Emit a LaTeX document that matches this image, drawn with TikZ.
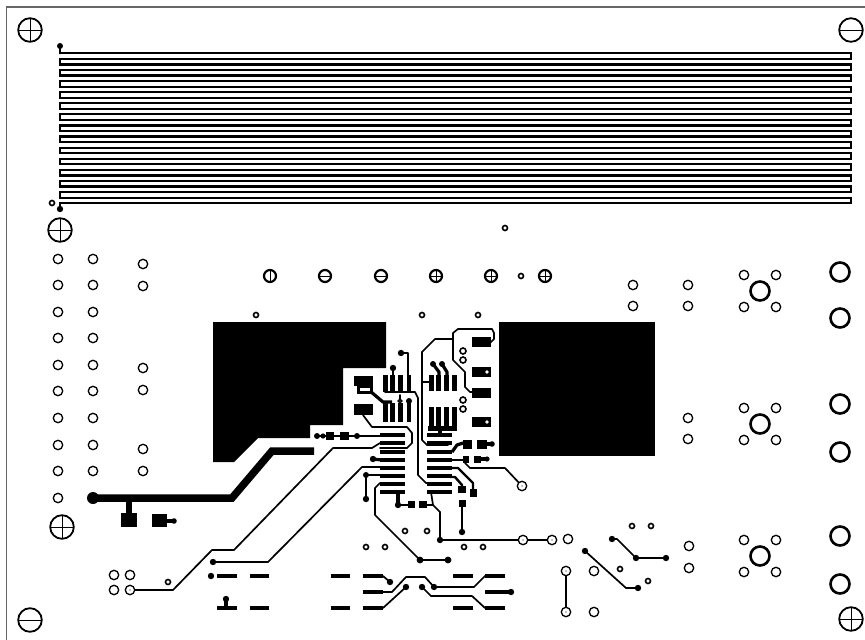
\documentclass[tikz,border=0pt]{standalone}
\usepackage{amsmath,amsfonts,amssymb}

\tikzset{
  trace/.style={line width=2.2pt, line join=round, line cap=round},
  wire/.style={line width=1.7pt, line join=round, line cap=round},
  thickwire/.style={line width=3.2pt, line join=round},
  fid/.style={line width=1.8pt, fill=white},
  via/.style={line width=1.3pt, fill=white},
  smallvia/.style={line width=1.6pt, fill=white},
  testpt/.style={line width=2.2pt, fill=white},
  bigvia/.style={line width=2.6pt, fill=white},
  outline/.style={black!60, line width=1.2pt},
}

\begin{document}
\begin{tikzpicture}[x=1pt, y=-1pt]
\useasboundingbox (0,0) rectangle (865,640);

% -------- board edge -----------
\draw [outline] (6.5,640) -- (6.5,7) -- (865,7);

% -------- serpentine -----------
\foreach \i in {0,...,27} {
  \pgfmathsetmacro{\yy}{53.3+5.55*\i}
  \draw [trace, line cap=rect] (60,\yy) -- (851,\yy);
}
\foreach \i in {1,3,...,25} {
  \pgfmathsetmacro{\ya}{53.3+5.55*\i}
  \pgfmathsetmacro{\yb}{53.3+5.55*(\i+1)}
  \draw [trace, line cap=rect] (60,\ya) -- (60,\yb);
}
\foreach \i in {0,2,...,26} {
  \pgfmathsetmacro{\ya}{53.3+5.55*\i}
  \pgfmathsetmacro{\yb}{53.3+5.55*(\i+1)}
  \draw [trace, line cap=rect] (851,\ya) -- (851,\yb);
}
\draw [trace] (60,46) -- (60,53.3);
\draw [trace] (60,203.2) -- (60,209);
\fill (60,46) circle (3pt);
\fill (60,209) circle (3.2pt);

% -------- copper pours -----------
\fill (213,322) -- (386,322) -- (386,368) -- (343,368) -- (343,425) -- (310,425)
  -- (310,438) -- (258,438) -- (234,462) -- (213,462) -- cycle;
\fill (499,322) rectangle (655,456);

% -------- thick run -----------
\draw [line width=7.5pt] (93,498) -- (232,498) -- (272,451) -- (314,451);
\fill (93,498) circle (6pt);
\draw [line width=6pt] (129,498) -- (129,515);
\fill (121,513) rectangle (137,527);
\fill (152,514) rectangle (167,527);
\draw [line width=4.5pt] (165,521) -- (173,521);
\fill (174,521) circle (2.8pt);

% -------- long traces -----------
\draw [wire] (130,590) -- (173,590) -- (212,550) -- (234,550) -- (333,448) -- (372,448) -- (380,443);
\draw [wire] (213,562) -- (268,562) -- (362,467) -- (380,467);
\fill (213,562) circle (3.2pt);
\draw [wire] (380,483) -- (375,488) -- (375,515) -- (420,560) -- (448,560);
\fill (420,560) circle (3.4pt);
\fill (448,560) circle (3.4pt);
\draw [wire] (363,415) -- (372,427) -- (407,427) -- (412,433) -- (412,443) -- (407,448) -- (380,448);
\draw [wire] (385,392) -- (415,392) -- (418,398) -- (418,475) -- (426,483) -- (450,483);
\draw [wire] (422,352) -- (422,440) -- (427,445) -- (448,445);
\draw [wire] (422,352) -- (435,339) -- (453,339) -- (453,333) -- (458,329) -- (492,329) -- (494,333) -- (494,339) -- (490,343) -- (480,343);
\draw [wire] (453,339) -- (453,360) -- (465,372) -- (465,387) -- (470,392) -- (478,392);
\draw [wire] (422,382) -- (432,382);
\draw [wire] (440,512) -- (433,505) -- (425,505);
\draw [wire] (431,492) -- (433,505);
\draw [wire] (440,512) -- (440,540) -- (553,540);
\fill (440,540) circle (3.2pt);

% -------- upper pads -----------
\foreach \px in {385.5,392.5,400.5,409} {
  \fill (\px-2.4,375) rectangle (\px+2.4,392);
  \fill (\px-2.4,403) rectangle (\px+2.4,422);
}
\foreach \px in {431,438.5,446,454} {
  \fill (\px-2.5,375) rectangle (\px+2.5,391);
  \fill (\px-2.5,407) rectangle (\px+2.5,428);
}
\fill (428,426) rectangle (457,431);
\draw [thickwire] (440,429) -- (440,436);
\draw [wire] (401,353) -- (408,353) -- (408,376);
\fill (401,353) circle (3.2pt);
\draw [wire] (393,368) -- (393,376);
\fill (393,368) circle (3.2pt);
\draw [thickwire] (433,364) -- (439,372) -- (439,377);
\draw [thickwire] (442,364) -- (447,372) -- (447,377);
\fill (433,364) circle (3pt);
\fill (442,364) circle (3pt);
\fill (409,401) circle (3pt);
\draw [wire] (400,395) -- (400,404);

% -------- pad block at left -----------
\fill (354,376) rectangle (373,386);
\draw [line width=3pt] (358,386) rectangle (371,392);
\draw [thickwire] (370,391) -- (383,402) -- (392,402);
\fill (354,404) rectangle (373,415);

% -------- pads at right -----------
\foreach \py in {337,367,388,417} {
  \fill (472,\py) rectangle (491,\py+10);
}
\fill [white] (487,372) circle (1.8pt);
\fill [white] (487,422) circle (1.8pt);

% -------- small ic rows -----------
\foreach \ry in {435,443,452,460,468,476,484,492} {
  \draw [line width=3.6pt] (380,\ry) -- (405,\ry);
  \draw [line width=3.6pt] (427,\ry) -- (452,\ry);
}

% -------- row stubs left -----------
\draw [wire] (317,436) -- (380,436);
\fill (317,436) circle (3pt);
\fill (323,436) circle (2.6pt);
\fill (326,432) rectangle (334,440);
\fill (340,432) rectangle (349,440);
\fill (357,436) circle (3pt);
\draw [thickwire] (373,459) -- (382,460);
\fill (373,459) circle (3.2pt);
\draw [wire] (380,475) -- (366,475) -- (366,499);
\fill (366,475) circle (3pt);
\fill (366,499) circle (3.2pt);
\draw [thickwire] (398,492) -- (398,505);
\draw [wire] (398,505) -- (408,505);
\fill (398,505) circle (3.2pt);
\fill (408,501) rectangle (415,508);
\fill (419,501) rectangle (427,508);

% -------- row stubs right -----------
\draw [thickwire] (452,452) -- (457,445) -- (463,443);
\fill (463,440) rectangle (472,449);
\fill (477,440) rectangle (487,449);
\draw [thickwire] (485,444) -- (491,444);
\fill (492,444) circle (2.8pt);
\draw [wire] (452,460) -- (465,460);
\fill (463,456) rectangle (469,463);
\fill (474,456) rectangle (481,463);
\draw [thickwire] (480,459) -- (486,459);
\fill (487,459) circle (2.6pt);
\draw [wire] (465,463) -- (470,468) -- (505,468) -- (522,486);
\draw [line width=2.4pt, line join=round] (450,468) -- (458,468) -- (473,483) -- (473,495);
\fill (470,489) rectangle (477,497);
\draw [line width=2.4pt, line join=round] (450,477) -- (455,477) -- (462,485) -- (462,492);
\fill (458,486) rectangle (466,493);
\draw [line width=2.6pt] (462,502) -- (462,531);
\fill (458.5,500) rectangle (465.5,507);
\fill (462,532) circle (3.2pt);

% -------- lower pad strips -----------
\foreach \ax/\bx/\ay in {217/237/576, 250/269/576, 217/237/608, 250/269/608,
  331/350/576, 363/383/576, 331/350/608, 363/383/608, 363/383/592,
  453/473/576, 485/505/576, 453/473/608, 485/505/608, 485/505/592} {
  \draw [line width=4.8pt] (\ax,\ay) -- (\bx,\ay);
}
\fill (211,576) circle (3.2pt);
\draw [thickwire] (226,599) -- (226,606);
\fill (226,599) circle (3.2pt);
\draw [wire] (383,576) -- (390,582);
\fill (390,582) circle (3.2pt);
\draw [wire] (383,592) -- (392,592) -- (406,577) -- (425,577) -- (434,587) -- (474,587) -- (485,576) -- (490,576);
\draw [wire] (383,608) -- (406,587);
\fill (406,587) circle (3.2pt);
\draw [wire] (422,587) -- (431,596) -- (472,596) -- (485,608);
\fill (422,587) circle (3.2pt);
\fill (434,587) circle (3.2pt);
\fill (511,592) circle (3.2pt);
\draw [thickwire] (504,592) -- (510,592);

% -------- traces lower right -----------
\draw [line width=2pt] (566,571) -- (566,612);
\draw [wire] (612,539) -- (617,539) -- (636,558) -- (666,558);
\fill (612,539) circle (3.2pt);
\fill (636,558) circle (3.2pt);
\fill (666,558) circle (3.2pt);
\draw [wire] (585,551) -- (626,588) -- (638,588);
\fill (585,551) circle (3.2pt);
\fill (638,588) circle (3.2pt);

% -------- via holes -----------
\foreach \vx/\vy in {58/259,93/259,58/285,93/285,58/312,93/312,58/338,93/338,58/365,93/365,
  58/391,93/391,58/418,93/418,58/445,93/445,58/471,93/471,58/498,
  143/264,143/286,143/368,143/390,143/449,143/471,
  114/575,130/575,114/590,
  633/285,688/285,633/306,688/306,688/418,688/439,689/546,689/568,
  568/539,594/571,594/612,
  744/275,776/275,744/307,776/307,744/408,776/408,744/440,776/440,744/540,776/540,744/572,776/572} {
  \draw [via] (\vx,\vy) circle (4.7pt);
}
\foreach \vx/\vy in {130/590,523/540,552/540,566/571,566/612,522/486} {
  \draw [via] (\vx,\vy) circle (4.7pt);
  \fill (\vx,\vy) circle (0.7pt);
}
\foreach \vx/\vy in {505/228,52/203,256/315,422/315,478/315,521/276,168/582,405/531,427/531,366/547,385/547,
  464/547,483/547,632/526,651/526,620/569,648/581} {
  \draw [smallvia] (\vx,\vy) circle (2.5pt);
}
\foreach \vx/\vy in {463/351,463/360,463/400,463/409} {
  \draw [smallvia] (\vx,\vy) circle (3pt);
}
\draw [smallvia] (400,401) circle (1.8pt);

% -------- big holes -----------
\foreach \vx/\vy in {760/291,760/424,760/556,840/272,840/318,840/404,840/452,840/536,840/584} {
  \draw [bigvia] (\vx,\vy) circle (9.5pt);
}

% -------- row of test points -----------
\draw [testpt] (270,276) circle (6pt);
\draw [line width=0.7pt] (270,270) -- (270,282);
\draw [testpt] (325,276) circle (6pt);
\draw [line width=0.7pt] (320,276) -- (330,276);
\draw [testpt] (381,276) circle (6pt);
\draw [line width=0.7pt] (375,276) -- (387,276);
\foreach \vx in {436,491,545} {
  \draw [testpt] (\vx,276) circle (6pt);
  \draw [line width=0.7pt] (\vx-6,276) -- (\vx+6,276) (\vx,270) -- (\vx,282);
}

% -------- fiducials -----------
\foreach \fx/\fy in {30/30,60/230,62/527,851/619} {
  \draw [fid] (\fx,\fy) circle (11.8pt);
  \draw [line width=0.6pt] (\fx-11.8,\fy) -- (\fx+11.8,\fy) (\fx,\fy-11.8) -- (\fx,\fy+11.8);
}
\foreach \fx/\fy in {851/30,30/620} {
  \draw [fid] (\fx,\fy) circle (11.8pt);
  \draw [line width=0.6pt] (\fx-11.8,\fy) -- (\fx+11.8,\fy);
}
\end{tikzpicture}
\end{document}
